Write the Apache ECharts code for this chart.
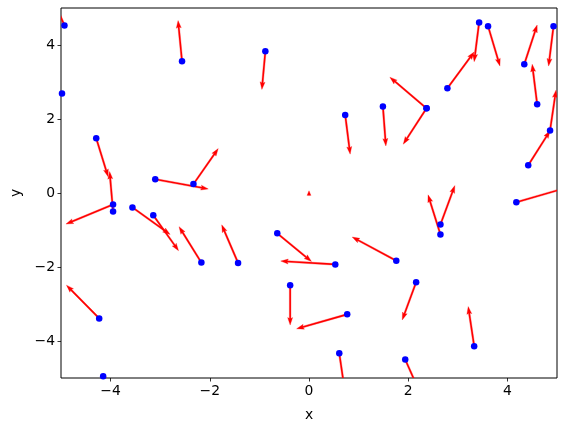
<!DOCTYPE html>
<html>
<head>
<meta charset="utf-8">
<script src="https://cdn.jsdelivr.net/npm/echarts@6/dist/echarts.min.js"></script>
<style>html,body{margin:0;padding:0;background:#fff}#c{width:565px;height:432px}</style>
</head>
<body>
<div id="c"></div>
<script>
// Points (blue dots)
var dotX = [-4.93,-2.56,-4.98,-0.88,0.73,1.49,3.43,3.61,2.79,4.34,4.93,4.60,2.37,2.37,4.86,4.42,4.18,2.65,2.65,1.76,-4.29,-3.95,-3.95,-3.10,-2.33,-3.56,-3.14,-2.17,-1.43,-0.64,0.53,-0.38,0.77,0.61,2.16,3.33,1.94,-4.23,-4.15];
var dotY = [4.53,3.56,2.69,3.83,2.11,2.34,4.61,4.51,2.83,3.48,4.51,2.40,2.29,2.29,1.69,0.75,-0.25,-0.85,-1.12,-1.83,1.48,-0.31,-0.50,0.37,0.24,-0.39,-0.60,-1.88,-1.89,-1.09,-1.93,-2.49,-3.28,-4.33,-2.41,-4.14,-4.50,-3.39,-4.95];
// Arrow tails and heads
var tailX = dotX.concat([0.0]);
var tailY = dotY.concat([-0.07]);
var headX = [-5.27,-2.64,-6.0,-0.95,0.83,1.55,3.33,3.85,3.33,4.60,4.83,4.50,1.63,1.90,4.98,4.86,5.21,2.94,2.40,0.87,-4.05,-4.90,-4.02,-2.03,-1.83,-2.80,-2.63,-2.62,-1.76,0.05,-0.57,-0.38,-0.25,0.73,1.88,3.21,2.28,-4.89,-3.45, 0.0];
var headY = [5.58,4.66,2.5,2.80,1.05,1.27,3.55,3.43,3.81,4.54,3.43,3.48,3.13,1.32,2.78,1.68,0.15,0.20,-0.05,-1.19,0.44,-0.84,0.58,0.11,1.20,-1.12,-1.56,-0.91,-0.86,-1.85,-1.84,-3.57,-3.67,-5.42,-3.43,-3.07,-5.53,-2.49,-5.75, 0.06];
var tickVals = [-4,-2,0,2,4];

var arrows = tailX.map(function(v,i){return [v, tailY[i], headX[i], headY[i]];});
var dots = dotX.map(function(v,i){return [v, dotY[i]];});

var chart = echarts.init(document.getElementById('c'), null, {renderer:'canvas'});
var F = 'DejaVu Sans';
function fmt(v){ return v < 0 ? '\u2212' + Math.abs(v) : String(v); }
var axisCommon = {
  type:'value', min:-5, max:5, interval:1,
  splitLine:{show:false},
  axisLine:{show:false, onZero:false},
  axisTick:{show:true, inside:false, length:3.5, lineStyle:{color:'#000', width:0.8}, customValues:tickVals},
  axisLabel:{color:'#000', fontFamily:F, fontSize:13.9, margin:6, customValues:tickVals, formatter:fmt},
  nameTextStyle:{color:'#000', fontFamily:F, fontSize:13.9},
  nameLocation:'middle'
};
chart.setOption({
  animation:false,
  grid:{left:61, top:8, width:496, height:370, show:true, borderColor:'#000', borderWidth:1, backgroundColor:'transparent', containLabel:false},
  xAxis: Object.assign({}, axisCommon, {name:'x', nameGap:30}),
  yAxis: Object.assign({}, axisCommon, {name:'y', nameGap:38, nameRotate:90}),
  series:[
    {
      type:'custom', clip:true, z:2,
      data: arrows,
      renderItem:function(params, api){
        var p0 = api.coord([api.value(0), api.value(1)]);
        var p1 = api.coord([api.value(2), api.value(3)]);
        var dx=p1[0]-p0[0], dy=p1[1]-p0[1];
        var L=Math.sqrt(dx*dx+dy*dy)||1e-6;
        var ux=dx/L, uy=dy/L, nx=-uy, ny=ux;
        var w=1.6, hl=7.5, ha=6.6, hw=5;
        var s = Math.min(1, L/hl);
        hl*=s; ha*=s; hw*=Math.max(s,0.8);
        function P(a,b){return [p1[0]-ux*a+nx*b, p1[1]-uy*a+ny*b];}
        var pts = [
          [p0[0]+nx*w/2, p0[1]+ny*w/2],
          P(ha, w/2), P(hl, hw/2), [p1[0],p1[1]], P(hl,-hw/2), P(ha,-w/2),
          [p0[0]-nx*w/2, p0[1]-ny*w/2]
        ];
        return {type:'polygon', shape:{points:pts}, style:{fill:'#ff0000', stroke:'#ff0000', lineWidth:0.3}};
      }
    },
    {
      type:'scatter', z:3, symbol:'circle', symbolSize:6.5,
      itemStyle:{color:'#0000ff', opacity:1},
      data: dots
    }
  ]
});
</script>
</body>
</html>
